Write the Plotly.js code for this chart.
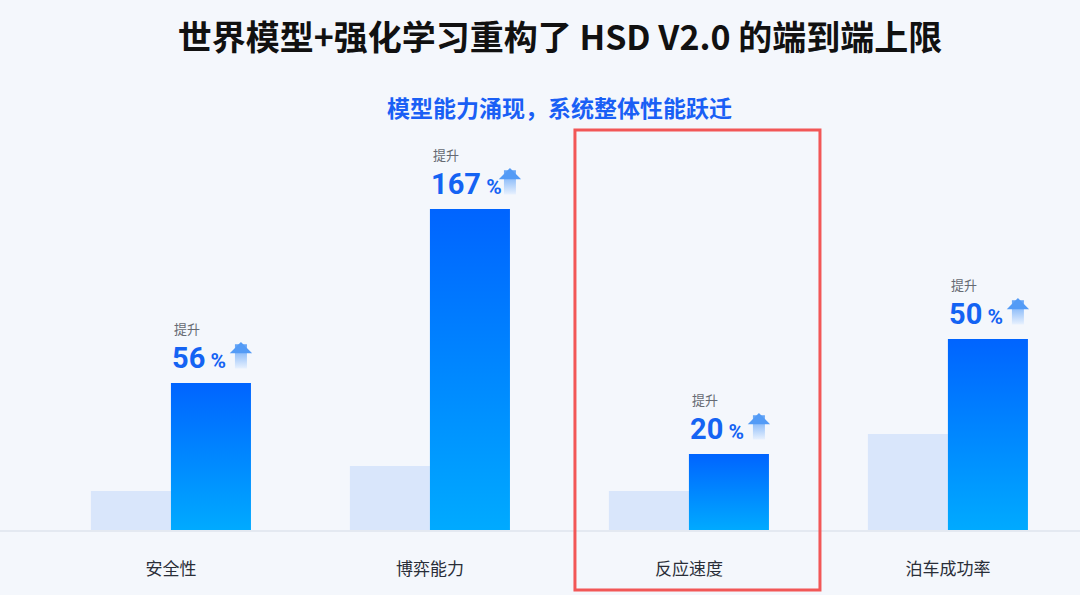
<!DOCTYPE html>
<html>
<head>
<meta charset="utf-8">
<script src="https://cdn.plot.ly/plotly-3.0.1.min.js"></script>
<style>
  html, body { margin: 0; padding: 0; background: #f4f7fc; }
  #chart { width: 1080px; height: 595px; }
</style>
</head>
<body>
<div id="chart"></div>
<script>
// values (relative bar heights, no unit given)
const categories = ['安全性', '博弈能力', '反应速度', '泊车成功率'];
const baseline = [39, 64, 39, 96];
const improved = [147, 321, 76, 191];
const gains = [56, 167, 20, 50];

const cjk = '"Noto Sans CJK SC", "Noto Sans", sans-serif';
const numFont = 'Roboto, "Noto Sans CJK SC", sans-serif';

const baseTrace = {
    x: categories,
    y: baseline,
    type: 'bar',
    name: '之前',
    marker: {color: '#d9e6fb'},
    hoverinfo: 'skip'
};
const improvedTrace = {
    x: categories,
    y: improved,
    type: 'bar',
    name: '之后',
    marker: {color: '#0088ff'},
    hoverinfo: 'skip'
};

const annotations = [];
categories.forEach((c, i) => {
    annotations.push({
        x: c, y: improved[i], xref: 'x', yref: 'y',
        text: '提升', showarrow: false,
        xanchor: 'left', yanchor: 'middle', xshift: 1, yshift: 55,
        font: {family: cjk, size: 13, color: '#666a73'}
    });
    annotations.push({
        x: c, y: improved[i], xref: 'x', yref: 'y',
        text: '<b>' + gains[i] + '</b><span style="font-size:21px"><b> %</b></span>',
        showarrow: false,
        xanchor: 'left', yanchor: 'middle', xshift: -1, yshift: 25,
        font: {family: numFont, size: 29, color: '#1463f3'}
    });
    // the little up arrow sits right after the number
    annotations.push({
        x: c, y: improved[i], xref: 'x', yref: 'y',
        text: '', showarrow: true,
        ax: 0, ay: 28, axref: 'pixel', ayref: 'pixel',
        xshift: 50 + 10 * String(gains[i]).length, yshift: 41,
        arrowhead: 1, arrowsize: 0.31, arrowwidth: 12,
        arrowcolor: '#539bf6', standoff: 0
    });
});

annotations.push({
    x: 0.5185, y: (530 - 107) / 400, xref: 'paper', yref: 'paper',
    text: '<b>模型能力涌现，系统整体性能跃迁</b>', showarrow: false,
    xanchor: 'center', yanchor: 'middle',
    font: {family: cjk, size: 23, color: '#1a5ff5'}
});

const layout = {
    width: 1080,
    height: 595,
    margin: {l: 0, r: 0, t: 130, b: 65},
    paper_bgcolor: '#f4f7fc',
    plot_bgcolor: 'rgba(0,0,0,0)',
    showlegend: false,
    barmode: 'group',
    bargap: 0.382,
    bargroupgap: 0,
    title: {
        text: '<b>世界模型+强化学习重构了 HSD V2.0 的端到端上限</b>',
        x: 0.5185, xanchor: 'center',
        y: 1 - 38 / 595, yanchor: 'middle', yref: 'container',
        font: {family: cjk, size: 34, color: '#111111', weight: 900}
    },
    xaxis: {
        type: 'category',
        range: [-0.66, 3.51],
        showgrid: false,
        zeroline: false,
        showline: true,
        linecolor: '#e4e9f1',
        linewidth: 1.5,
        ticks: '',
        ticklabelstandoff: 23,
        tickfont: {family: cjk, size: 17, color: '#2a2e38'},
        fixedrange: true
    },
    yaxis: {
        range: [0, 400],
        visible: false,
        fixedrange: true
    },
    annotations: annotations,
    shapes: [{
        type: 'rect',
        xref: 'x', yref: 'paper',
        x0: 1.56, x1: 2.506,
        y0: -0.15, y1: 1.0,
        line: {color: '#f25757', width: 3},
        fillcolor: 'rgba(0,0,0,0)'
    }]
};

const ns = 'http://www.w3.org/2000/svg';
function addGradient(defs, id, stops, attrs) {
    const grad = document.createElementNS(ns, 'linearGradient');
    grad.setAttribute('id', id);
    Object.keys(attrs).forEach(k => grad.setAttribute(k, attrs[k]));
    stops.forEach(([o, c]) => {
        const s = document.createElementNS(ns, 'stop');
        s.setAttribute('offset', o);
        s.setAttribute('stop-color', c);
        grad.appendChild(s);
    });
    defs.appendChild(grad);
}

Plotly.newPlot('chart', [baseTrace, improvedTrace], layout, {displayModeBar: false, staticPlot: true})
    .then(gd => {
        const defs = gd.querySelector('.main-svg defs');

        // vertical gradient on the improved bars
        addGradient(defs, 'barGrad', [['0', '#0064ff'], ['1', '#00aaff']],
            {x1: 0, y1: 0, x2: 0, y2: 1});
        const traces = gd.querySelectorAll('.barlayer .trace');
        traces[1].querySelectorAll('path').forEach(p => { p.style.fill = 'url(#barGrad)'; });

        // fade the arrow stems towards the bottom (first path in each arrow group is the stem)
        gd.querySelectorAll('.annotation-arrow-g').forEach((g, k) => {
            const p = g.querySelector('path');
            if (!p) return;
            const b = p.getBBox();
            const id = 'arrowGrad' + k;
            addGradient(defs, id, [['0', '#539bf6'], ['1', '#e8f1fe']], {
                gradientUnits: 'userSpaceOnUse',
                x1: b.x, x2: b.x, y1: b.y, y2: b.y + b.height
            });
            p.style.stroke = 'url(#' + id + ')';
        });
    });
</script>
</body>
</html>
